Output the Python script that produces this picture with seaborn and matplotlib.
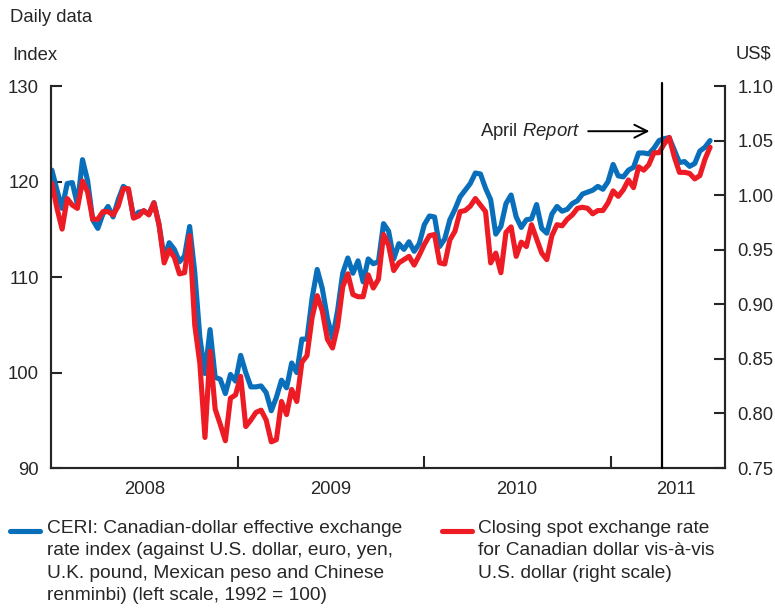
import pandas as pd
import matplotlib
matplotlib.use("Agg")
import matplotlib.pyplot as plt
from matplotlib.lines import Line2D
import seaborn as sns

# CERI index (left scale, 1992 = 100), read roughly every 10 days from Jan 2008
ceri = [121.2, 119.1, 117.2, 119.8, 119.9, 117.6, 122.3, 120.1, 116.0, 115.1,
        116.6, 117.4, 116.3, 118.1, 119.5, 119.1, 116.3, 116.8, 116.9, 116.6,
        117.8, 115.5, 112.0, 113.6, 112.9, 111.6, 112.2, 115.3, 110.5, 103.7,
        99.9, 104.5, 99.5, 99.3, 97.8, 99.8, 99.1, 101.8, 100.0, 98.5,
        98.5, 98.6, 97.9, 96.0, 97.4, 99.2, 98.4, 101.0, 100.0, 103.5,
        103.5, 107.8, 110.8, 108.8, 105.7, 103.6, 106.5, 110.4, 112.0, 110.4,
        111.7, 109.5, 111.9, 111.4, 111.6, 115.6, 114.8, 111.9, 113.5, 112.9,
        113.7, 112.7, 113.5, 115.5, 116.4, 116.3, 113.2, 114.0, 116.0, 117.1,
        118.4, 119.1, 119.8, 120.9, 120.8, 119.3, 118.1, 114.5, 115.3, 117.7,
        118.6, 116.3, 115.2, 116.0, 116.1, 117.6, 115.1, 114.6, 116.6, 117.4,
        116.9, 117.1, 117.7, 118.0, 118.7, 118.9, 119.1, 119.5, 119.2, 120.0,
        121.8, 120.6, 120.5, 121.2, 121.5, 123.0, 123.0, 122.9, 123.5, 124.3,
        124.5, 124.6, 123.3, 122.0, 122.1, 121.6, 121.9, 123.2, 123.6, 124.3]

# closing spot rate, US$ per Canadian dollar (right scale)
usd = [1.011, 0.988, 0.969, 0.997, 0.991, 0.988, 1.013, 1.003, 0.978, 0.978,
       0.985, 0.985, 0.982, 0.990, 1.006, 1.006, 0.979, 0.981, 0.986, 0.982,
       0.993, 0.973, 0.938, 0.950, 0.943, 0.928, 0.929, 0.963, 0.881, 0.846,
       0.778, 0.857, 0.804, 0.790, 0.775, 0.814, 0.817, 0.834, 0.788, 0.794,
       0.801, 0.803, 0.794, 0.774, 0.776, 0.811, 0.799, 0.822, 0.811, 0.847,
       0.853, 0.888, 0.908, 0.894, 0.868, 0.860, 0.880, 0.916, 0.928, 0.909,
       0.907, 0.907, 0.927, 0.915, 0.923, 0.964, 0.954, 0.931, 0.938, 0.941,
       0.944, 0.936, 0.945, 0.955, 0.963, 0.964, 0.938, 0.937, 0.959, 0.967,
       0.985, 0.986, 0.990, 0.997, 0.991, 0.985, 0.938, 0.947, 0.929, 0.966,
       0.971, 0.944, 0.957, 0.953, 0.973, 0.960, 0.947, 0.941, 0.963, 0.973,
       0.972, 0.978, 0.982, 0.988, 0.989, 0.988, 0.983, 0.986, 0.986, 0.993,
       1.004, 0.999, 1.005, 1.014, 1.007, 1.026, 1.023, 1.028, 1.039, 1.039,
       1.047, 1.053, 1.035, 1.021, 1.021, 1.020, 1.015, 1.018, 1.033, 1.044]

dates = pd.date_range("2008-01-02", periods=len(ceri), freq="10D")

year_labels = ["2008", "2009", "2010", "2011"]
year_label_pos = ["2008-07-01", "2009-07-01", "2010-07-01", "2011-05-10"]
year_ticks = ["2009-01-01", "2010-01-01", "2011-01-01"]
left_ticks = [90, 100, 110, 120, 130]
right_ticks = [0.75, 0.80, 0.85, 0.90, 0.95, 1.00, 1.05, 1.10]
april_report = "2011-04-12"

ceri_lbl = ("CERI: Canadian-dollar effective exchange\n"
            "rate index (against U.S. dollar, euro, yen,\n"
            "U.K. pound, Mexican peso and Chinese\n"
            "renminbi) (left scale, 1992 = 100)")
usd_lbl = ("Closing spot exchange rate\n"
           "for Canadian dollar vis-\u00e0-vis\n"
           "U.S. dollar (right scale)")

BLUE = "#0a6fba"
RED = "#ed1c24"

sns.set_style("ticks")
plt.rcParams["font.family"] = ["Liberation Sans", "DejaVu Sans"]
plt.rcParams["mathtext.fontset"] = "custom"
plt.rcParams["mathtext.rm"] = "Liberation Sans"
plt.rcParams["mathtext.it"] = "Liberation Sans:italic"
FS = 13.3
LFS = 13.8

fig = plt.figure(figsize=(7.75, 6.11), dpi=100)
ax = fig.add_axes([0.0663, 0.234, 0.869, 0.625])
ax2 = ax.twinx()

sns.lineplot(x=dates, y=ceri, ax=ax, color=BLUE, lw=3.7)
sns.lineplot(x=dates, y=usd, ax=ax2, color=RED, lw=3.7)

ax.set_xlim(pd.Timestamp("2008-01-01"), pd.Timestamp("2011-08-13"))
ax.set_ylim(90, 130)
ax2.set_ylim(0.75, 1.10)
ax.set_xlabel("")
ax.set_ylabel("")
ax2.set_xlabel("")
ax2.set_ylabel("")

ax.set_xticks(pd.to_datetime(year_ticks))
ax.set_xticklabels([""] * len(year_ticks))
ax.set_xticks(pd.to_datetime(year_label_pos), minor=True)
ax.set_xticklabels(year_labels, minor=True, fontsize=FS)
ax.tick_params(axis="x", which="major", direction="in", length=9, width=1.5)
ax.tick_params(axis="x", which="minor", length=0, pad=9)

ax.set_yticks(left_ticks)
ax.set_yticklabels([str(t) for t in left_ticks], fontsize=FS)
ax.tick_params(axis="y", direction="in", length=8, width=1.5, pad=9)
ax2.set_yticks(right_ticks)
ax2.set_yticklabels([f"{t:.2f}" for t in right_ticks], fontsize=FS)
ax2.tick_params(axis="y", direction="in", length=8, width=1.5, pad=9)

for a in (ax, ax2):
    a.spines["top"].set_visible(False)
    for s in ("left", "right", "bottom"):
        a.spines[s].set_linewidth(1.5)

ax2.axvline(pd.Timestamp(april_report), ymin=0, ymax=1.008, color="black",
            lw=1.6, clip_on=False, zorder=5)
ax2.annotate(r"April $\it{Report}$", xy=(0.888, 0.882), xycoords="axes fraction",
             xytext=(0.786, 0.882), textcoords="axes fraction",
             ha="right", va="center", fontsize=FS,
             arrowprops=dict(arrowstyle="->,head_length=0.7,head_width=0.35",
                             lw=1.4, color="black", shrinkA=3, shrinkB=0))

fig.text(10 / 775, 1 - 18 / 611, "Daily data", fontsize=FS, va="center")
fig.text(12 / 775, 1 - 55 / 611, "Index", fontsize=FS, va="center")
fig.text(736 / 775, 1 - 54 / 611, "US$", fontsize=FS, va="center")

# legend drawn by hand so the key sits on the first text line
fig.add_artist(Line2D([10 / 775, 40 / 775], [1 - 531 / 611] * 2, color=BLUE, lw=3.7))
fig.text(47 / 775, 1 - 520 / 611, ceri_lbl, fontsize=LFS, va="top", linespacing=1.42)
fig.add_artist(Line2D([442 / 775, 472 / 775], [1 - 531 / 611] * 2, color=RED, lw=3.7))
fig.text(478 / 775, 1 - 520 / 611, usd_lbl, fontsize=LFS, va="top", linespacing=1.42)

fig.savefig("out.png", dpi=100)
